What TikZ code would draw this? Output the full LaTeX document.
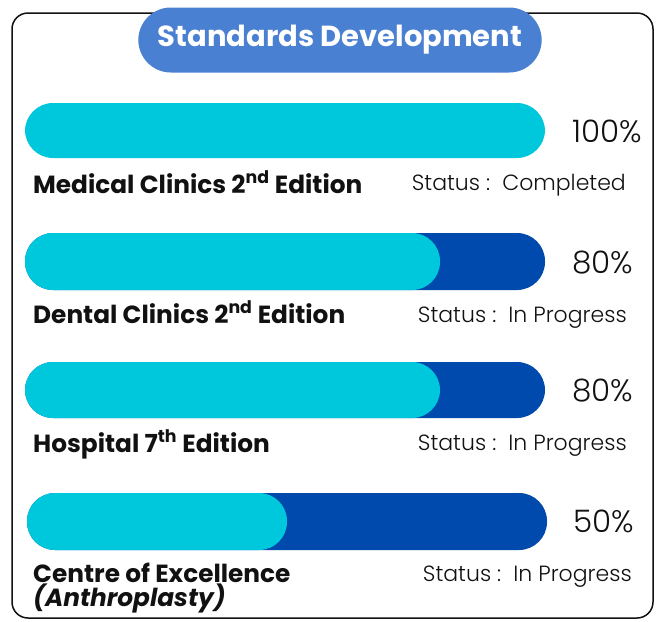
\documentclass[tikz,border=0pt]{standalone}
\usepackage{fontspec}
\setmainfont{Poppins}
\newfontfamily\lightfont{Poppins Light}
\usetikzlibrary{shapes.misc}

\definecolor{barcyan}{RGB}{0,200,220}
\definecolor{bardark}{RGB}{0,74,173}
\definecolor{titleblue}{RGB}{74,128,210}
\definecolor{inktext}{RGB}{17,17,17}

\tikzset{
  track/.style={fill=bardark, rounded corners=28pt},
  fillbar/.style={fill=barcyan, rounded corners=28pt},
  label/.style={anchor=base west, inner sep=0pt, text=inktext, font=\bfseries\fontsize{24.8}{28}\selectfont},
  status/.style={anchor=base east, inner sep=0pt, text=inktext, font=\lightfont\fontsize{22}{26}\selectfont},
  percent/.style={anchor=base west, inner sep=0pt, text=inktext, font=\lightfont\fontsize{31}{34}\selectfont},
}

\begin{document}
\begin{tikzpicture}[x=1pt, y=-1pt]
  \useasboundingbox (0,0) rectangle (657,622);
  % frame
  \draw[line width=1.5pt, draw=inktext, rounded corners=16pt] (12,13) rectangle (653,618);
  \node[rounded rectangle, fill=titleblue, text=white, minimum width=410pt, minimum height=65pt,
        font=\bfseries\fontsize{29}{32}\selectfont] (title) at (340,40) {Standards Development};

  % bar 1
  \fill[fillbar] (25,103) rectangle (545,158);
  \node[percent] (p1) at (572,142) {100\%};
  \node[label] (l1) at (33,193) {Medical Clinics 2\textsuperscript{nd} Edition};
  \node[status] (s1) at (626,190) {Status :\ \ Completed};

  % bar 2
  \fill[track] (25,233) rectangle (545,290);
  \fill[fillbar] (25,233) rectangle (440,290);
  \node[percent] (p2) at (572,273) {80\%};
  \node[label] (l2) at (33,323) {Dental Clinics 2\textsuperscript{nd} Edition};
  \node[status] (s2) at (627,322) {Status :\ \ In Progress};

  % bar 3
  \fill[track] (25,362) rectangle (545,418);
  \fill[fillbar] (25,362) rectangle (440,418);
  \node[percent] (p3) at (572,401) {80\%};
  \node[label] (l3) at (33,452) {Hospital 7\textsuperscript{th} Edition};
  \node[status] (s3) at (627,450) {Status :\ \ In Progress};

  % bar 4
  \fill[track] (27,493) rectangle (547,550);
  \fill[fillbar] (27,493) rectangle (287,550);
  \node[percent] (p4) at (573,532) {50\%};
  \node[label] (l4) at (33,582) {Centre of Excellence};
  \node[label] (l4b) at (33,606) {\itshape(Anthroplasty)};
  \node[status] (s4) at (632,581) {Status :\ \ In Progress};
\end{tikzpicture}
\end{document}
